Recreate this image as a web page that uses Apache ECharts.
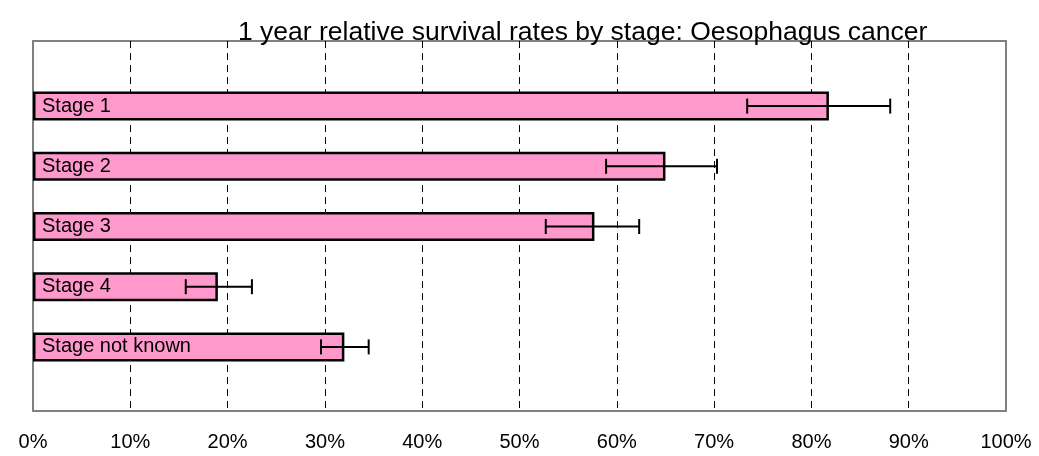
<!DOCTYPE html>
<html>
<head>
<meta charset="utf-8">
<script src="https://cdn.jsdelivr.net/npm/echarts@6/dist/echarts.min.js"></script>
<style>
html,body{margin:0;padding:0;background:#fff;}
#c{width:1039px;height:456px;}
</style>
</head>
<body>
<div id="c"></div>
<script>
var categories = ['Stage 1', 'Stage 2', 'Stage 3', 'Stage 4', 'Stage not known'];
var survival = [81.8, 65.0, 57.7, 19.0, 32.0];
var lowerCI = [73.4, 58.9, 52.7, 15.7, 29.6];
var upperCI = [88.1, 70.3, 62.3, 22.5, 34.5];
var tickValues = [0, 10, 20, 30, 40, 50, 60, 70, 80, 90, 100];

var chart = echarts.init(document.getElementById('c'));
var errData = categories.map(function (c, i) { return [lowerCI[i], upperCI[i], i]; });
var FONT = 'Liberation Sans, Arial, sans-serif';

chart.setOption({
  animation: false,
  backgroundColor: '#fff',
  title: {
    text: '1 year relative survival rates by stage: Oesophagus cancer',
    left: 233, top: 14,
    textStyle: { fontFamily: FONT, fontSize: 26.5, fontWeight: 'normal', color: '#000' }
  },
  grid: [
    { left: 33, right: 33, top: 41, bottom: 45, show: true, borderColor: '#808080', borderWidth: 2, backgroundColor: 'transparent' },
    { left: 33, right: 33, top: 76, bottom: 79 }
  ],
  xAxis: [
    {
      gridIndex: 0, type: 'value', min: 0, max: 100, interval: 10,
      axisLine: { show: false }, axisTick: { show: false },
      axisLabel: {
        margin: 21, color: '#000', fontSize: 20, fontFamily: FONT,
        formatter: function (v) { return tickValues.indexOf(v) >= 0 ? v + '%' : ''; }
      },
      splitLine: { show: true, showMinLine: false, showMaxLine: false, lineStyle: { color: '#000', type: [7, 5], width: 1 } }
    },
    {
      gridIndex: 1, type: 'value', min: 0, max: 100, show: false, splitLine: { show: false }
    }
  ],
  yAxis: [
    { gridIndex: 0, type: 'value', min: 0, max: 1, show: false, splitLine: { show: false } },
    { gridIndex: 1, type: 'category', data: categories, inverse: true, show: false }
  ],
  series: [
    {
      type: 'bar', xAxisIndex: 1, yAxisIndex: 1, data: survival, barWidth: 29,
      itemStyle: { color: '#FF99CC', borderColor: '#000', borderWidth: 2.5 },
      label: {
        show: true, position: 'insideLeft', distance: 9,
        formatter: function (p) { return p.name; },
        color: '#000', fontSize: 20, fontFamily: FONT
      },
      z: 2
    },
    {
      type: 'custom', xAxisIndex: 1, yAxisIndex: 1, data: errData,
      encode: { x: [0, 1], y: 2 },
      z: 3,
      renderItem: function (params, api) {
        var lo = api.coord([api.value(0), api.value(2)]);
        var hi = api.coord([api.value(1), api.value(2)]);
        var h = 7.5;
        var st = { stroke: '#000', lineWidth: 2, fill: null };
        return {
          type: 'group',
          children: [
            { type: 'line', shape: { x1: lo[0], y1: lo[1], x2: hi[0], y2: hi[1] }, style: st },
            { type: 'line', shape: { x1: lo[0], y1: lo[1] - h, x2: lo[0], y2: lo[1] + h }, style: st },
            { type: 'line', shape: { x1: hi[0], y1: hi[1] - h, x2: hi[0], y2: hi[1] + h }, style: st }
          ]
        };
      }
    }
  ]
});
</script>
</body>
</html>
